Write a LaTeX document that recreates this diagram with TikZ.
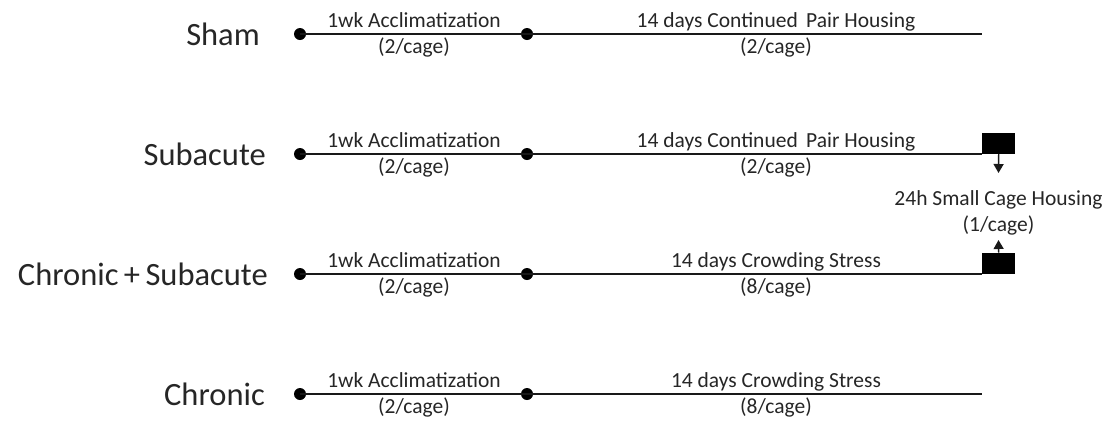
\documentclass[tikz,border=0pt]{standalone}
\usepackage{fontspec}
\setmainfont{Carlito}
\usetikzlibrary{arrows.meta}
\begin{document}
\begin{tikzpicture}[x=1pt,y=-1pt,
  tl/.style={line width=1.4pt, draw=black!90},
  dotnode/.style={circle, fill=black, inner sep=0pt, minimum size=12pt},
  grp/.style={anchor=base east, font=\fontsize{32.5}{36}\selectfont, text=black!85, inner sep=0pt},
  seg/.style={anchor=base, font=\fontsize{21.5}{24}\selectfont, text=black!85, inner sep=0pt},
  blk/.style={fill=black, minimum width=33pt, minimum height=21pt, inner sep=0pt, anchor=south west},
  arr/.style={line width=1.4pt, draw=black!90, -{Triangle[width=10pt,length=9pt]}}
]
\useasboundingbox (0,0) rectangle (1114,432);

% Row 1: Sham (y=34)
\node[grp] (g1) at (260,45) {Sham};
\node[dotnode] (a1) at (300,34) {};
\node[dotnode] (b1) at (527,34) {};
\coordinate (e1) at (982,34);
\draw[tl] (a1.center) -- (b1.center) -- (e1);
\node[seg] (s1a) at (414,27.5) {1wk Acclimatization};
\node[seg] (s1b) at (414,53.5) {(2/cage)};
\node[seg] (s1c) at (776,27.5) {14 days Continued\, Pair Housing};
\node[seg] (s1d) at (776,53.5) {(2/cage)};

% Row 2: Subacute (y=154)
\node[grp] (g2) at (266,165) {Subacute};
\node[dotnode] (a2) at (300,154) {};
\node[dotnode] (b2) at (527,154) {};
\node[blk] (k2) at (982,154) {};
\draw[tl] (a2.center) -- (b2.center) -- (k2.south west);
\node[seg] (s2a) at (414,147.5) {1wk Acclimatization};
\node[seg] (s2b) at (414,173.5) {(2/cage)};
\node[seg] (s2c) at (776,147.5) {14 days Continued\, Pair Housing};
\node[seg] (s2d) at (776,173.5) {(2/cage)};

% Small cage housing
\node[seg] (h1) at (998.5,205) {24h Small Cage Housing};
\node[seg] (h2) at (998.5,231) {(1/cage)};
\coordinate (t2) at (998.5,173);
\coordinate (t3) at (998.5,240);
\draw[arr] (k2.south) -- (t2);

% Row 3: Chronic + Subacute (y=274)
\node[grp] (g3) at (268,285) {Chronic\,+\,Subacute};
\node[dotnode] (a3) at (300,274) {};
\node[dotnode] (b3) at (527,274) {};
\node[blk] (k3) at (982,274) {};
\draw[tl] (a3.center) -- (b3.center) -- (k3.south west);
\node[seg] (s3a) at (414,267.5) {1wk Acclimatization};
\node[seg] (s3b) at (414,293.5) {(2/cage)};
\node[seg] (s3c) at (776,267.5) {14 days Crowding Stress};
\node[seg] (s3d) at (776,293.5) {(8/cage)};
\draw[arr] (k3.north) -- (t3);

% Row 4: Chronic (y=394)
\node[grp] (g4) at (265,405) {Chronic};
\node[dotnode] (a4) at (300,394) {};
\node[dotnode] (b4) at (527,394) {};
\coordinate (e4) at (982,394);
\draw[tl] (a4.center) -- (b4.center) -- (e4);
\node[seg] (s4a) at (414,387.5) {1wk Acclimatization};
\node[seg] (s4b) at (414,413.5) {(2/cage)};
\node[seg] (s4c) at (776,387.5) {14 days Crowding Stress};
\node[seg] (s4d) at (776,413.5) {(8/cage)};
\end{tikzpicture}
\end{document}
